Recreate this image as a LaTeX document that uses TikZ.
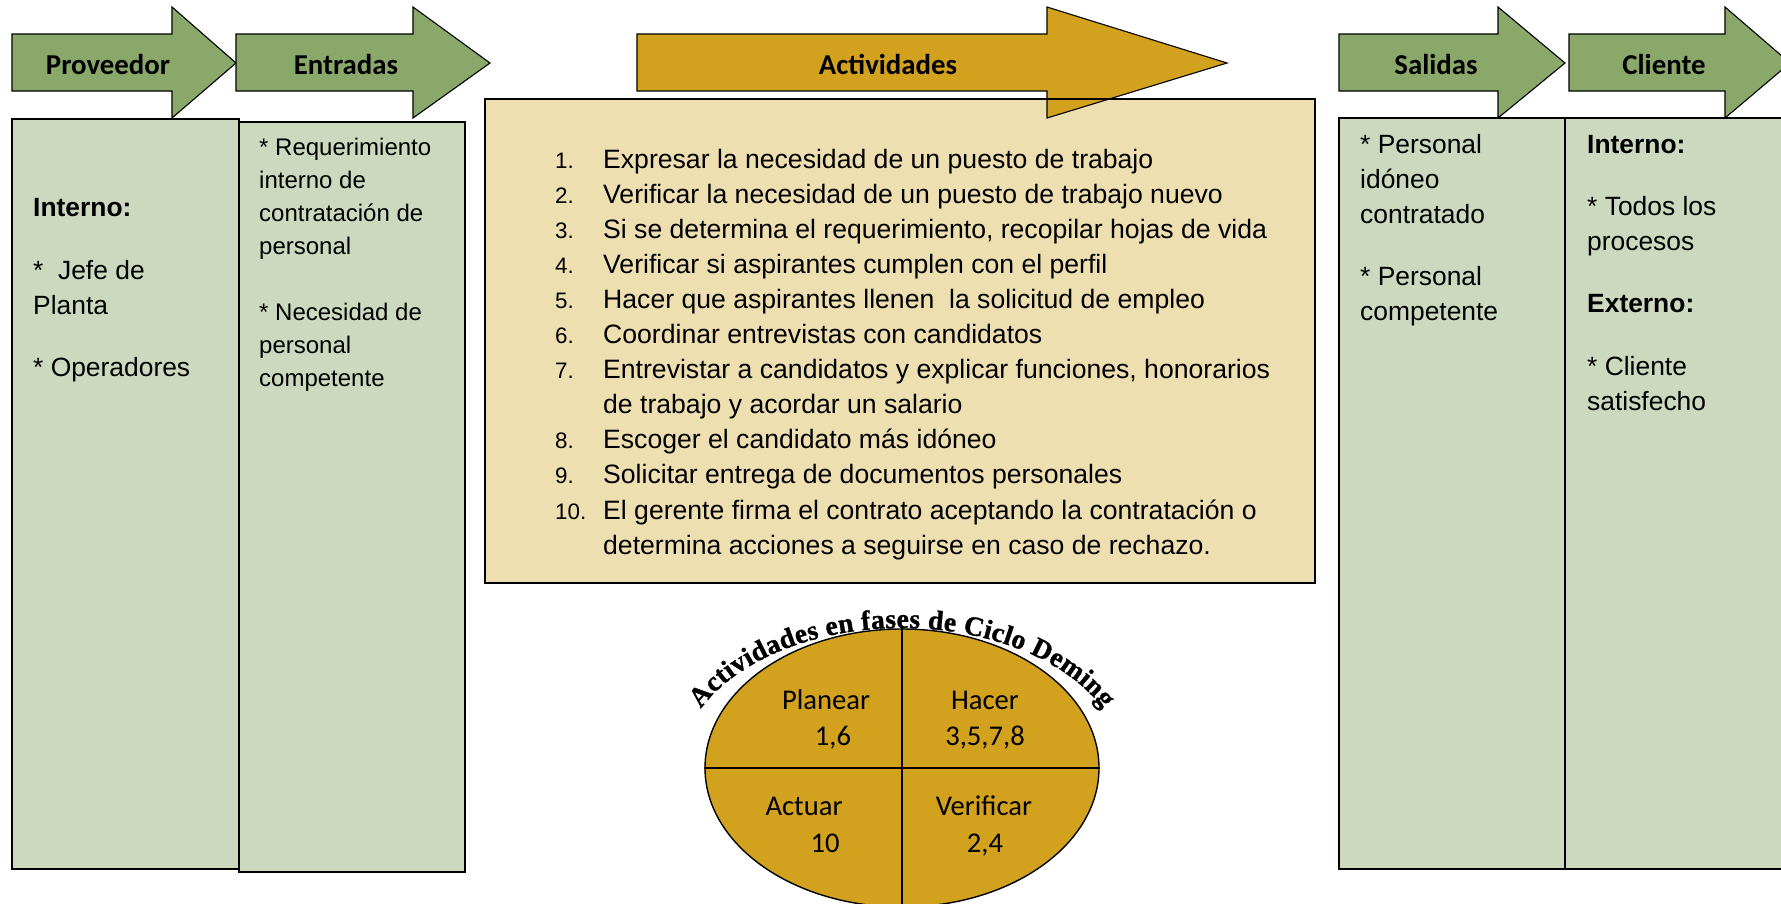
\documentclass[tikz,border=0pt]{standalone}
\usepackage{fontspec}
\setmainfont{Liberation Sans}
\newfontfamily\calibri{Carlito}
\newfontfamily\archfont{Liberation Serif}[BoldFeatures={FakeBold=1.2}]
\usepackage{tikz}
\usetikzlibrary{shapes.geometric,decorations.text}

\definecolor{arrowgreen}{RGB}{138,168,106}
\definecolor{boxgreen}{RGB}{205,217,190}
\definecolor{gold}{RGB}{210,162,30}
\definecolor{lightgold}{RGB}{238,223,176}

\newcommand\archtitle{\archfont\bfseries\fontsize{27.5}{30}\selectfont}
\newcommand\stepnum[1]{{\fontsize{22.4}{35.1}\selectfont #1}}

\begin{document}
\begin{tikzpicture}[x=1pt, y=1pt,
	procarrow/.style={draw=black, line width=1.1pt, fill=arrowgreen},
	colbox/.style={draw=black, line width=1.6pt, fill=boxgreen},
	head/.style={font=\calibri\bfseries\fontsize{28.8}{30}\selectfont, anchor=base, inner sep=0pt},
	leftcol/.style={anchor=north west, align=left, inner sep=0pt, font=\fontsize{24}{33}\selectfont},
	rightcol/.style={anchor=north west, align=left, inner sep=0pt, font=\fontsize{26.4}{35}\selectfont},
	phase/.style={font=\calibri\fontsize{28.6}{30}\selectfont, anchor=base, inner sep=0pt}]
	\useasboundingbox (0,0) rectangle (1781,-903);
	\clip (0,0) rectangle (1781,-903);
	\draw[colbox] (12,-119) rectangle (239,-869);
	\draw[colbox] (239,-122) rectangle (465,-872);
	\draw[colbox] (1339,-118) rectangle (1565,-869);
	\draw[colbox] (1565,-118) rectangle (1800,-869);
	\draw[line width=1.6pt, fill=lightgold] (485,-99) rectangle (1315,-583);
	\draw[procarrow] (12,-34) -- (172,-34) -- (172,-7) -- (236,-63) -- (172,-118) -- (172,-91) -- (12,-91) -- cycle;
	\draw[procarrow] (236,-34) -- (413,-34) -- (413,-7) -- (490,-63) -- (413,-118) -- (413,-91) -- (236,-91) -- cycle;
	\draw[procarrow, fill=gold] (637,-34) -- (1047,-34) -- (1047,-7) -- (1227,-63) -- (1047,-118) -- (1047,-91) -- (637,-91) -- cycle;
	\draw[procarrow] (1339,-34) -- (1498,-34) -- (1498,-7) -- (1565,-63) -- (1498,-118) -- (1498,-91) -- (1339,-91) -- cycle;
	\draw[procarrow] (1569,-34) -- (1725,-34) -- (1725,-7) -- (1790,-63) -- (1725,-118) -- (1725,-91) -- (1569,-91) -- cycle;
	\draw[line width=1.6pt] (485,-99) -- (1315,-99);
	\node[head] (hprov) at (108,-74) {Proveedor};
	\node[head] (hent) at (346,-74) {Entradas};
	\node[head] (hact) at (888,-74) {Actividades};
	\node[head] (hsal) at (1436,-74) {Salidas};
	\node[head] (hcli) at (1664,-74) {Cliente};
	\node[rightcol] (tprov) at (33,-198) {\textbf{Interno:}\\[28pt] *\ \ Jefe de\\ Planta\\[27pt] * Operadores};
	\node[leftcol] (tent) at (259,-138) {* Requerimiento\\ interno de\\ contratación de\\ personal\\[33pt] * Necesidad de\\ personal\\ competente};
	\node[rightcol] (tsal) at (1360,-134) {* Personal\\ idóneo\\ contratado\\[27pt] * Personal\\ competente};
	\node[rightcol] (tcli) at (1587,-135) {\textbf{Interno:}\\[27pt] * Todos los\\ procesos\\[27pt] \textbf{Externo:}\\[28pt] * Cliente\\ satisfecho};
	\node[anchor=base west, inner sep=0pt, font=\fontsize{26.6}{35.1}\selectfont] (steps) at (555,-168) {%
		\begin{tabular}[t]{@{}p{48pt}@{}l@{}}
			\stepnum{1.} & Expresar la necesidad de un puesto de trabajo\\
			\stepnum{2.} & Verificar la necesidad de un puesto de trabajo nuevo\\
			\stepnum{3.} & Si se determina el requerimiento, recopilar hojas de vida\\
			\stepnum{4.} & Verificar si aspirantes cumplen con el perfil\\
			\stepnum{5.} & Hacer que aspirantes llenen\ \ la solicitud de empleo\\
			\stepnum{6.} & Coordinar entrevistas con candidatos\\
			\stepnum{7.} & Entrevistar a candidatos y explicar funciones, honorarios\\
			& de trabajo y acordar un salario\\
			\stepnum{8.} & Escoger el candidato más idóneo\\
			\stepnum{9.} & Solicitar entrega de documentos personales\\
			\stepnum{10.} & El gerente firma el contrato aceptando la contratación o\\
			& determina acciones a seguirse en caso de rechazo.
		\end{tabular}};
	\node[ellipse, draw=black, line width=1.4pt, fill=gold, minimum width=394pt, minimum height=278pt, inner sep=0pt] (deming) at (902,-768) {};
	\draw[line width=1.6pt] (deming.west) -- (deming.east);
	\draw[line width=1.6pt] (deming.north) -- (deming.south);
	\node[phase] (plan) at (826,-709) {Planear};
	\node[phase] (plannum) at (833,-745) {1,6};
	\node[phase] (do) at (985,-709) {Hacer};
	\node[phase] (donum) at (985,-745) {3,5,7,8};
	\node[phase] (act) at (804,-815) {Actuar};
	\node[phase] (actnum) at (825,-852) {10};
	\node[phase] (check) at (984,-815) {Verificar};
	\node[phase] (checknum) at (985,-852) {2,4};
	\coordinate (archc) at (902,-768);
	\path[decorate, decoration={text along path, text={|\archtitle|Actividades en fases de Ciclo Deming}, text align={fit to path}}]
		([shift={(155:222pt and 140pt)}]archc) arc[start angle=155, end angle=25, x radius=222pt, y radius=140pt];
\end{tikzpicture}
\end{document}
